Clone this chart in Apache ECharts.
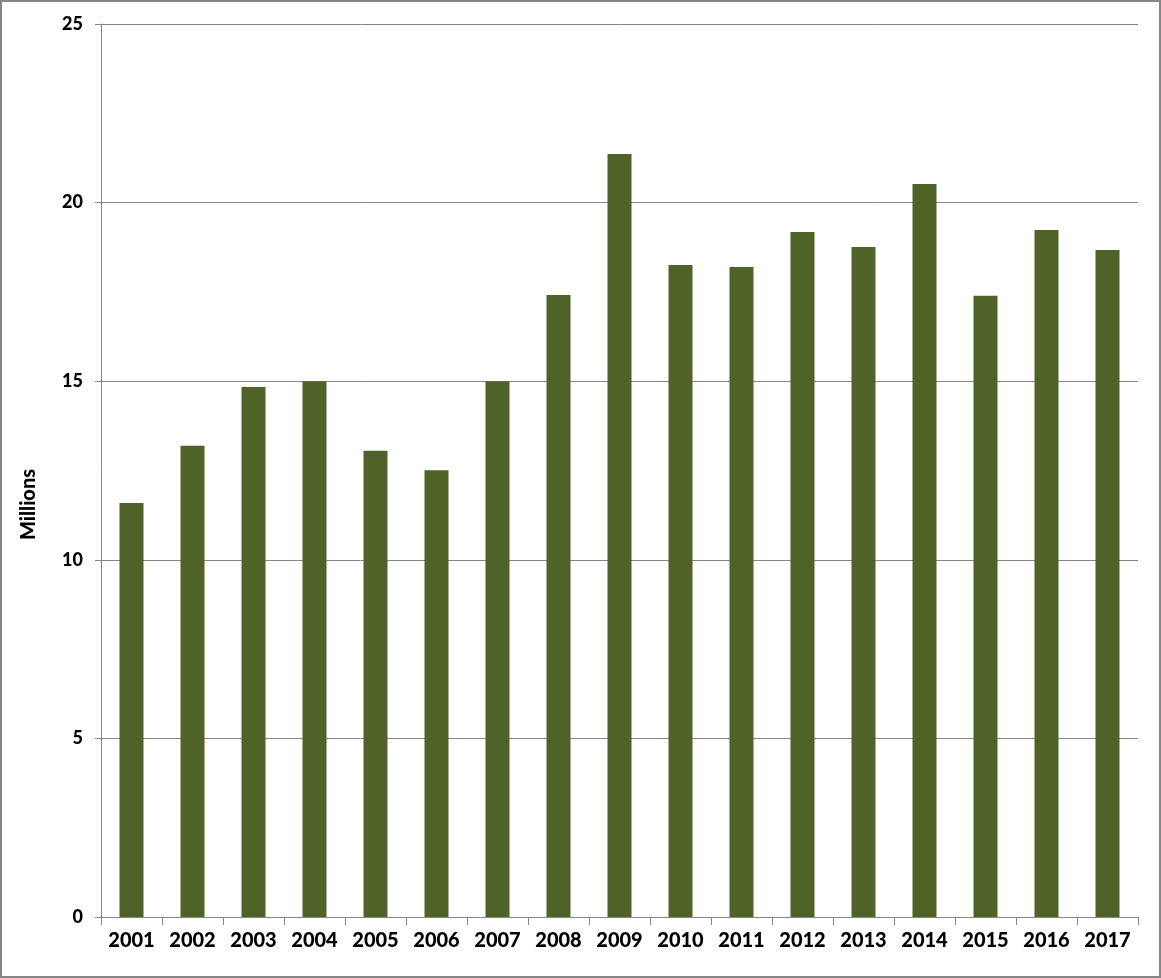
<!DOCTYPE html>
<html>
<head>
<meta charset="utf-8">
<script src="https://cdn.jsdelivr.net/npm/echarts@6/dist/echarts.min.js"></script>
<style>
html,body{margin:0;padding:0;background:#fff;}
#chart{width:1161px;height:978px;}
</style>
</head>
<body>
<div id="chart"></div>
<script>
const categories = ['2001','2002','2003','2004','2005','2006','2007','2008','2009','2010','2011','2012','2013','2014','2015','2016','2017'];
const values = [11.59, 13.19, 14.84, 15.0, 13.05, 12.51, 15.0, 17.41, 21.36, 18.25, 18.2, 19.18, 18.76, 20.52, 17.39, 19.23, 18.67];
const yTicks = [0, 5, 10, 15, 20, 25];

const chart = echarts.init(document.getElementById('chart'), null, {renderer: 'canvas'});
chart.setOption({
  backgroundColor: '#fff',
  animation: false,
  graphic: [{
    type: 'rect',
    shape: {x: 1, y: 1, width: 1159, height: 976},
    style: {fill: 'none', stroke: '#868686', lineWidth: 2},
    silent: true
  }],
  grid: {left: 101, top: 24, right: 23, bottom: 61, containLabel: false},
  xAxis: {
    type: 'category',
    data: categories,
    axisLine: {lineStyle: {color: '#868686', width: 1}},
    axisTick: {show: true, length: 8, alignWithLabel: false, lineStyle: {color: '#868686'}},
    axisLabel: {color: '#000', fontFamily: 'Lato', fontWeight: 900, fontSize: 20, margin: 14}
  },
  yAxis: {
    type: 'value',
    min: yTicks[0],
    max: yTicks[yTicks.length - 1],
    interval: 5,
    name: 'Millions',
    nameLocation: 'middle',
    nameGap: 62,
    nameRotate: 90,
    nameTextStyle: {color: '#000', fontFamily: 'Lato', fontWeight: 900, fontSize: 20, padding: [0, 68, 0, 0]},
    axisLine: {show: true, lineStyle: {color: '#868686'}},
    axisTick: {show: true, length: 6, lineStyle: {color: '#868686'}},
    axisLabel: {color: '#000', fontFamily: 'Lato', fontWeight: 900, fontSize: 18, margin: 18},
    splitLine: {show: true, lineStyle: {color: '#868686', width: 1}}
  },
  series: [{
    type: 'bar',
    data: values,
    barWidth: 24,
    itemStyle: {color: '#4F6228'}
  }]
});
</script>
</body>
</html>
